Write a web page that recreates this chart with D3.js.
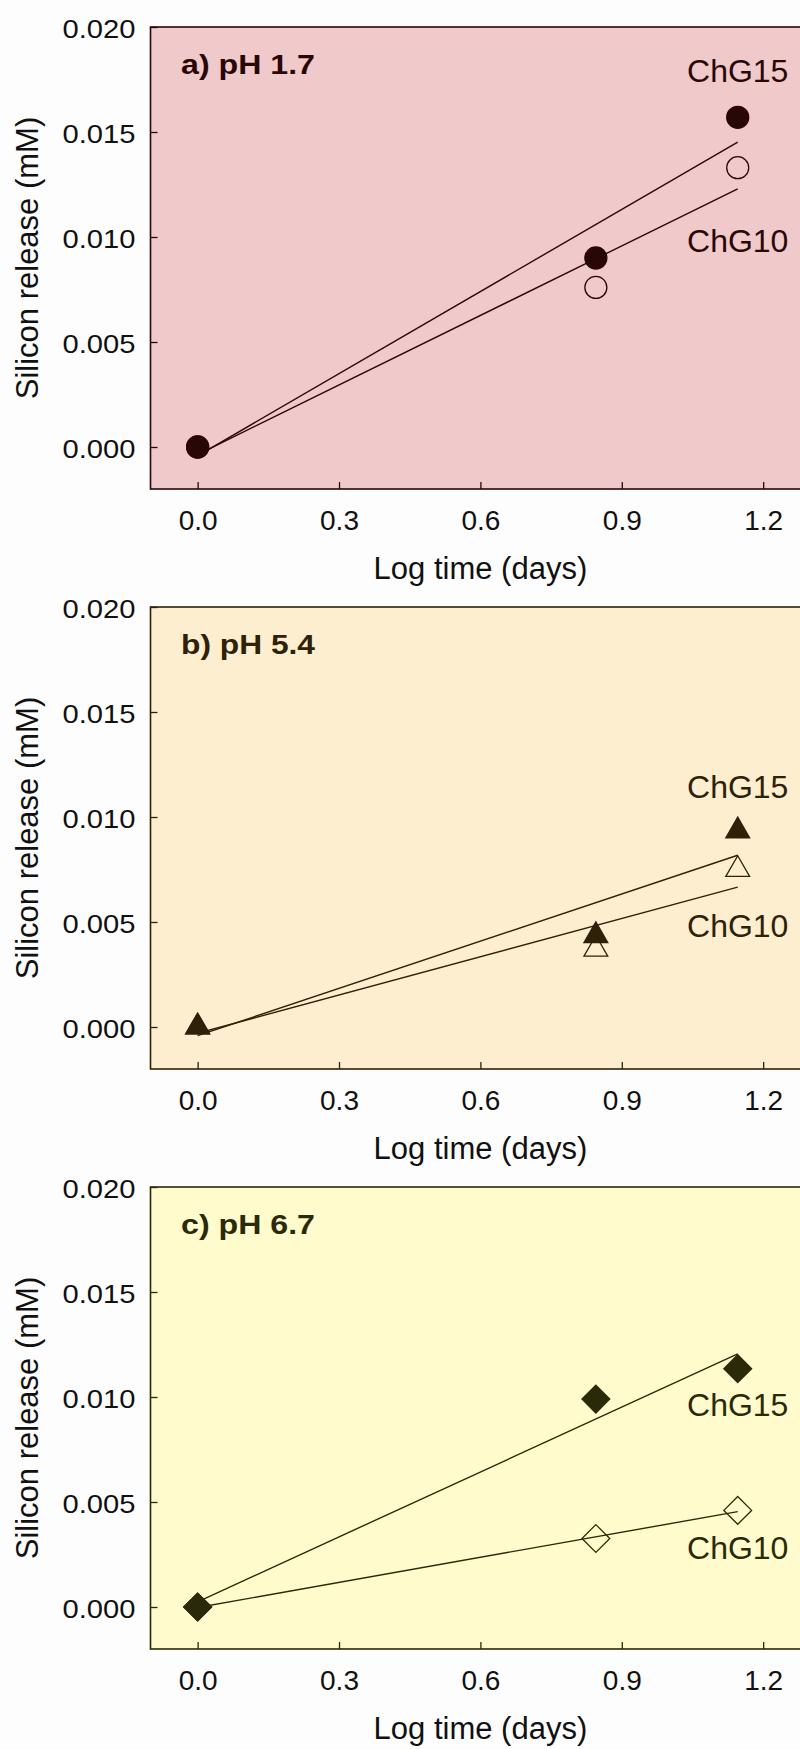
<!DOCTYPE html>
<html>
<head>
<meta charset="utf-8">
<script src="https://cdn.jsdelivr.net/npm/d3@7"></script>
<style>
  html, body { margin: 0; padding: 0; background: #fdfdfd; }
  svg { display: block; font-family: "Liberation Sans", Arial, Helvetica, sans-serif; }
</style>
</head>
<body>
<svg id="chart" width="800" height="1749"></svg>
<script>
// Sampling times on a log10 scale (1, 7 and 14 days)
const logTime = [0, 0.845, 1.146];

// Panel titles
const panelTitles = ["a) pH 1.7", "b) pH 5.4", "c) pH 6.7"];

// Silicon release (mM) per panel
const chg15Release = [
  [0, 0.0090, 0.0157],
  [0, 0.00435, 0.00934],
  [0, 0.0099, 0.01135]
];
const chg10Release = [
  [0, 0.0076, 0.0133],
  [0, 0.0037, 0.0075],
  [0, 0.00326, 0.0046]
];

// Series names
const seriesNames = ["ChG15", "ChG10"];

// Axis ticks
const xTicks = [0, 0.3, 0.6, 0.9, 1.2];
const yTicks = [0, 0.005, 0.010, 0.015, 0.020];

// Where each series name sits (baseline, in mM) in each panel
const chg15LabelY = [0.0174, 0.0109, 0.0091];
const chg10LabelY = [0.0093, 0.0043, 0.0023];

// Panel styling
const panelFill = ["#f0c9ca", "#fdeecf", "#fffbcc"];
const panelInk = ["#2a0707", "#2e2108", "#2b2a08"];
const markerShape = ["circle", "triangle", "diamond"];

const svg = d3.select("#chart");

const left = 150.5, right = 810.3, plotH = 462;
const panelTops = [27, 607, 1187];

const x = d3.scaleLinear().domain([-0.1, 1.3]).range([left, right]);

function fit(xs, ys) {
  const mx = d3.mean(xs), my = d3.mean(ys);
  let sxy = 0, sxx = 0;
  xs.forEach((v, i) => { sxy += (v - mx) * (ys[i] - my); sxx += (v - mx) * (v - mx); });
  const b = sxy / sxx;
  return { a: my - b * mx, b };
}

function markerPath(shape) {
  if (shape === "circle") return d3.symbol(d3.symbolCircle, Math.PI * 11 * 11)();
  if (shape === "triangle") return "M0,-13.8L11.9,6.9L-11.9,6.9Z";
  return "M0,-13.9L13.9,0L0,13.9L-13.9,0Z";
}

panelTops.forEach((top, p) => {
  const ink = panelInk[p];
  const y = d3.scaleLinear().domain([-0.002, 0.020]).range([top + plotH, top]);
  const g = svg.append("g");

  g.append("rect")
    .attr("x", left).attr("y", top)
    .attr("width", right - left).attr("height", plotH)
    .attr("fill", panelFill[p]);

  // Axes with inward ticks
  const yAxis = g.append("g")
    .attr("transform", `translate(${left},0)`)
    .call(d3.axisLeft(y).tickValues(yTicks).tickFormat(d3.format(".3f"))
      .tickSizeInner(-7).tickSizeOuter(0).tickPadding(15));
  yAxis.select(".domain").remove();
  yAxis.selectAll(".tick line").attr("stroke", ink).attr("stroke-width", 1.3);
  yAxis.selectAll(".tick text")
    .attr("fill", "#111").attr("font-size", 25).attr("dy", "0.4em")
    .attr("textLength", 73).attr("lengthAdjust", "spacingAndGlyphs");

  const xAxis = g.append("g")
    .attr("transform", `translate(0,${top + plotH})`)
    .call(d3.axisBottom(x).tickValues(xTicks).tickFormat(d3.format(".1f"))
      .tickSizeInner(-7).tickSizeOuter(0).tickPadding(21));
  xAxis.select(".domain").remove();
  xAxis.selectAll(".tick line").attr("stroke", ink).attr("stroke-width", 1.3);
  xAxis.selectAll(".tick text").attr("fill", "#111").attr("font-size", 28);

  // Frame
  g.append("rect")
    .attr("x", left).attr("y", top)
    .attr("width", right - left).attr("height", plotH)
    .attr("fill", "none").attr("stroke", ink).attr("stroke-width", 1.6);

  // Axis titles
  g.append("text")
    .attr("x", (left + right) / 2).attr("y", top + plotH + 90)
    .attr("text-anchor", "middle").attr("font-size", 31).attr("fill", "#111")
    .text("Log time (days)");
  g.append("text")
    .attr("transform", `translate(27,${top + plotH / 2}) rotate(-90)`)
    .attr("text-anchor", "middle").attr("dominant-baseline", "central")
    .attr("font-size", 31).attr("fill", "#111")
    .text("Silicon release (mM)");

  // Panel title
  g.append("text")
    .attr("x", 181).attr("y", top + 47)
    .attr("font-size", 27).attr("font-weight", "bold").attr("fill", ink)
    .attr("textLength", 134).attr("lengthAdjust", "spacingAndGlyphs")
    .text(panelTitles[p]);

  // Linear fits
  const series = [
    { vals: chg15Release[p], filled: true, labelY: chg15LabelY[p], name: seriesNames[0] },
    { vals: chg10Release[p], filled: false, labelY: chg10LabelY[p], name: seriesNames[1] }
  ];
  const xMin = d3.min(logTime), xMax = d3.max(logTime);
  series.forEach(s => {
    const f = fit(logTime, s.vals);
    g.append("line")
      .attr("x1", x(xMin)).attr("y1", y(f.a + f.b * xMin))
      .attr("x2", x(xMax)).attr("y2", y(f.a + f.b * xMax))
      .attr("stroke", ink).attr("stroke-width", 1.4);
  });

  // Markers: open series first, filled on top
  [series[1], series[0]].forEach(s => {
    g.selectAll(null)
      .data(s.vals.map((v, i) => [logTime[i], v]))
      .join("path")
      .attr("transform", d => `translate(${x(d[0])},${y(d[1])})`)
      .attr("d", markerPath(markerShape[p]))
      .attr("fill", s.filled ? ink : "none")
      .attr("stroke", ink).attr("stroke-width", 1.3);
  });

  // Series labels
  series.forEach(s => {
    g.append("text")
      .attr("x", x(xMax)).attr("y", y(s.labelY))
      .attr("text-anchor", "middle").attr("font-size", 32).attr("fill", ink)
      .text(s.name);
  });
});
</script>
</body>
</html>
